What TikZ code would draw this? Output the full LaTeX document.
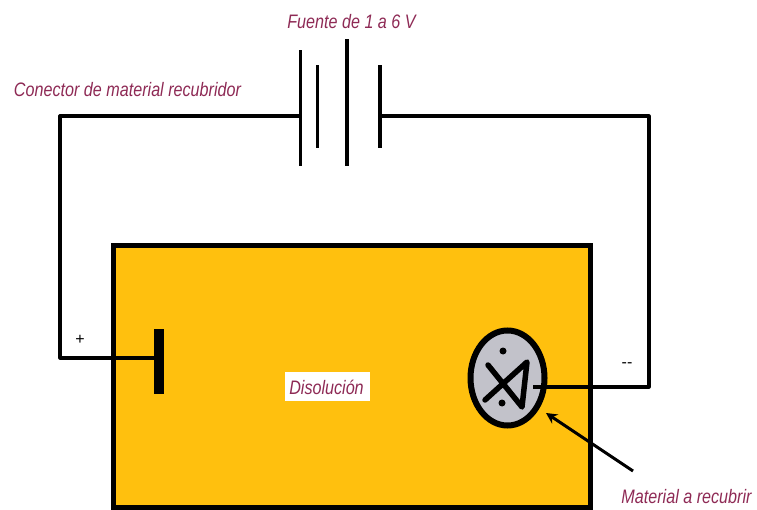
\documentclass[tikz,border=0pt]{standalone}
\usepackage{fontspec}
\usepackage{xcolor}
\usetikzlibrary{shapes.geometric,arrows.meta}
\setmainfont{Liberation Sans}
\definecolor{tankcolor}{HTML}{FFC00E}
\definecolor{captioncolor}{HTML}{8E2A55}
\definecolor{metalcolor}{HTML}{C2C2CA}
\tikzset{
  wire/.style={black, line width=3.2pt, line join=round},
  plate/.style={rectangle, fill=black, inner sep=0pt, minimum width=3.6pt},
  caption/.style={captioncolor, xscale=0.828, font=\fontsize{19.5}{21}\selectfont\itshape, inner sep=0pt},
  sign/.style={font=\fontsize{16}{18}\selectfont, inner sep=0pt}
}
\begin{document}
\begin{tikzpicture}[x=1pt,y=-1pt]
\useasboundingbox (0,0) rectangle (757,510);
% Define the nodes
\node[rectangle, draw=black, fill=tankcolor, line width=5pt, minimum width=477pt, minimum height=261pt, inner sep=0pt] at (351.5,376.5) (tank) {};
\node[plate, minimum height=116pt] at (300.5,108) (plateA) {};
\node[plate, minimum height=83pt] at (317.5,106.5) (plateB) {};
\node[plate, minimum height=127pt] at (347,102.5) (plateC) {};
\node[plate, minimum height=83pt] at (380,106.5) (plateD) {};
\node[rectangle, fill=black, minimum width=10pt, minimum height=65pt, inner sep=0pt] at (159,361) (anode) {};
\node[ellipse, draw=black, fill=metalcolor, line width=6pt, minimum width=74pt, minimum height=95pt, inner sep=0pt] at (507.5,378) (piece) {};
\node[circle, fill=black, inner sep=0pt, minimum size=7pt] at (503,351) (dotA) {};
\node[circle, fill=black, inner sep=0pt, minimum size=7pt] at (502,403) (dotB) {};
\node[rectangle, fill=white, minimum width=85pt, minimum height=29pt, inner sep=0pt] at (327.5,386.5) (solbox) {};
\node[caption] at (326.5,387) (sol) {Disolución};
\node[caption] at (351.5,22) (source) {Fuente de 1 a 6 V};
\node[caption] at (127.5,90) (connector) {Conector de material recubridor};
\node[caption] at (686.5,497) (material) {Material a recubrir};
\node[sign] at (80,340) (plus) {+};
\node[sign] at (627,365) (minus) {-{}-};
% Define the corners
\coordinate (cornerA) at (60,116);
\coordinate (cornerB) at (60,358);
\coordinate (cornerC) at (649,116);
\coordinate (cornerD) at (649,387);
\coordinate (arrowstart) at (633,471);
\coordinate (arrowend) at (546,413);
\coordinate (fishA) at (488,365);
\coordinate (fishB) at (522,407);
\coordinate (fishC) at (527,362);
\coordinate (fishD) at (485,400);
\coordinate (stem) at (533,387);
% Draw the paths
\draw[wire] (plateA |- cornerA) -- (cornerA) -- (cornerB) -- (anode |- cornerB);
\draw[wire] (plateD |- cornerC) -- (cornerC) -- (cornerD) -- (stem);
\draw[black, line width=5.5pt, line cap=round, line join=round] (fishA) -- (fishB) -- (fishC) -- (fishD);
\draw[-{Stealth[length=11pt,width=11pt]}, black, line width=3pt] (arrowstart) -- (arrowend);
\end{tikzpicture}
\end{document}
